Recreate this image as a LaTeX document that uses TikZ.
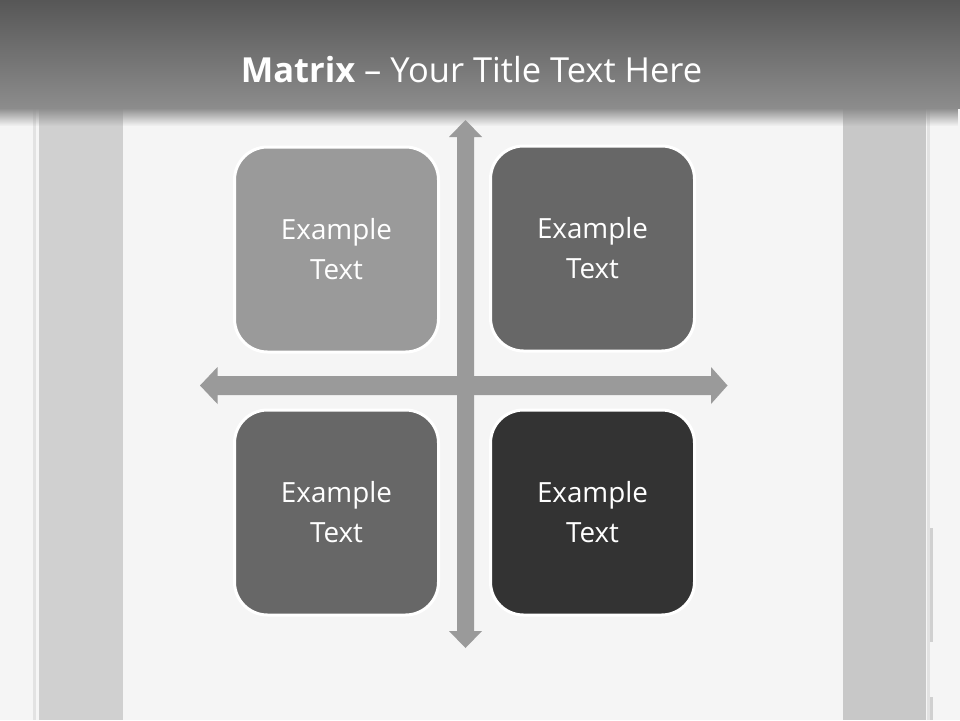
\documentclass[tikz,border=0pt]{standalone}
\usepackage{fontspec}
\setmainfont{Open Sans}
\usetikzlibrary{shapes.arrows,fadings}
\definecolor{bg}{HTML}{F5F5F5}
\definecolor{colL}{HTML}{D0D0D0}
\definecolor{colR}{HTML}{C8C8C8}
\definecolor{edge}{HTML}{E2E2E2}
\definecolor{barTop}{HTML}{575757}
\definecolor{barBot}{HTML}{8C8C8C}
\definecolor{arrowc}{HTML}{9A9A9A}
\definecolor{cA}{HTML}{9A9A9A}
\definecolor{cB}{HTML}{676767}
\definecolor{cC}{HTML}{333333}
\tikzset{
  card/.style={draw=white, line width=3pt, rounded corners=33pt, minimum width=204pt, minimum height=205pt, inner sep=0pt, align=center, text=white, font=\fontsize{27.8}{40}\selectfont},
  axis/.style={fill=arrowc, draw=none}
}
\begin{document}
\begin{tikzpicture}[x=1pt,y=-1pt]
\useasboundingbox (0,0) rectangle (960,720);
\fill[bg] (0,0) rectangle (960,720);
% side columns
\fill[edge] (33,0) rectangle (36,720);
\fill[colL] (38.5,0) rectangle (122.5,720);
\fill[colR] (843,0) rectangle (926,720);
\fill[edge] (927,0) rectangle (930,720);
\fill[colL] (930,528) rectangle (933,642);
\fill[colL] (930,697) rectangle (933,720);
% title bar
\shade[top color=barTop, bottom color=barBot] (0,0) rectangle (960,108);
\fill[barBot, path fading=south] (0,108) rectangle (960,126);
\node[text=white, font=\fontsize{34.5}{40}\selectfont, anchor=base] (title) at (471.5,82) {\textbf{Matrix} – Your Title Text Here};
% axes
\coordinate (vt) at (465.5,120);
\coordinate (vb) at (465.5,648);
\coordinate (hl) at (200,385.5);
\coordinate (hr) at (727.5,385.5);
\fill[axis] (vt) -- (482,137) -- (474,137) -- (474,631) -- (482,631) -- (vb) -- (449,631) -- (457,631) -- (457,137) -- (449,137) -- cycle;
\fill[axis] (hl) -- (217.5,367) -- (217.5,376) -- (711,376) -- (711,367) -- (hr) -- (711,404) -- (711,395) -- (217.5,395) -- (217.5,404) -- cycle;
% cards
\node[card, fill=cA] (tl) at (336.5,249.5) {Example\\Text};
\node[card, fill=cB] (tr) at (592.5,248.5) {Example\\Text};
\node[card, fill=cB] (bl) at (336.5,512.5) {Example\\Text};
\node[card, fill=cC] (br) at (592.5,512.5) {Example\\Text};
\end{tikzpicture}
\end{document}
